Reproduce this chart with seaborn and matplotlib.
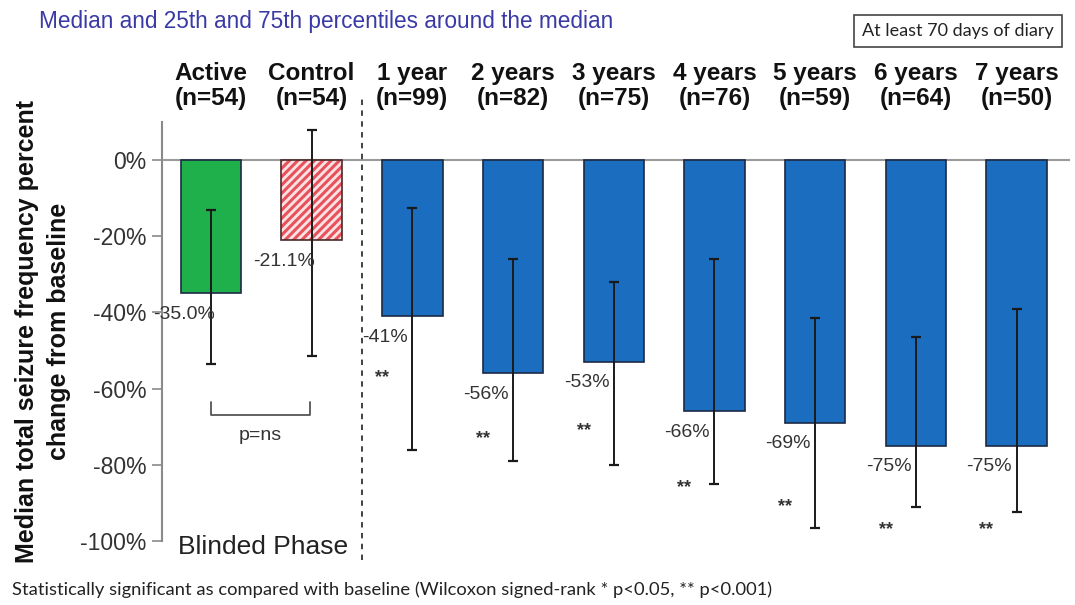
import seaborn as sns
import matplotlib
matplotlib.use("Agg")
import matplotlib.pyplot as plt
import matplotlib.transforms as mtrans
from matplotlib.patches import Rectangle
import pandas as pd

# data
groups = ["Active", "Control", "1 year", "2 years", "3 years", "4 years", "5 years", "6 years", "7 years"]
n_sizes = [54, 54, 99, 82, 75, 76, 59, 64, 50]
medians = [-35.0, -21.1, -41, -56, -53, -66, -69, -75, -75]
p75 = [-13, 8, -12.5, -26, -32, -26, -41.5, -46.5, -39]
p25 = [-53.5, -51.5, -76, -79, -80, -85, -96.5, -91, -92.5]
value_labels = ["-35.0%", "-21.1%", "-41%", "-56%", "-53%", "-66%", "-69%", "-75%", "-75%"]
stars = ["", "", "**", "**", "**", "**", "**", "**", "**"]
star_y = [None, None, -57, -73, -71, -86, -91, -97, -97]
yticks = [0, -20, -40, -60, -80, -100]

bar_colors = ["#1fb04b", "#fbe3e4"] + ["#1b6dc0"] * 7

sns.set_style("white")
plt.rcParams["font.family"] = ["Liberation Sans", "DejaVu Sans"]
plt.rcParams["hatch.linewidth"] = 2.2

df = pd.DataFrame({"group": groups, "median": medians})

fig = plt.figure(figsize=(10.75, 6.05), dpi=100)
ax = fig.add_axes([0.1507, 0.1058, 0.8446, 0.6925])

sns.barplot(data=df, x="group", y="median", hue="group", palette=bar_colors,
            saturation=1, legend=False, width=0.6, edgecolor="#1c2a44", linewidth=1.2, ax=ax)

# control bar: red diagonal hatch with dark outline
ctrl = ax.patches[1]
ctrl.set_edgecolor("#e8525c")
ctrl.set_hatch("////")
ctrl.set_linewidth(0)
ax.add_patch(Rectangle(ctrl.get_xy(), ctrl.get_width(), ctrl.get_height(),
                       fill=False, edgecolor="#4a2a2a", lw=1.2, zorder=3))

xs = list(range(len(groups)))
lo = [m - b for m, b in zip(medians, p25)]
hi = [t - m for m, t in zip(medians, p75)]
ax.errorbar(xs, medians, yerr=[lo, hi], fmt="none", ecolor="#1a1a1a",
            elinewidth=1.4, capsize=3.5, capthick=1.6, zorder=4)

ax.axhline(0, color="#9a9a9a", lw=1.5, zorder=0)

ax.set_ylim(-100, 10)
ax.set_xlim(-0.486, 8.53)
ax.set_yticks(yticks)
ax.set_yticklabels([f"{t}%" for t in yticks], fontsize=16.5, color="#333333")
ax.set_xticks([])
ax.set_xlabel("")
ax.tick_params(axis="y", direction="out", length=7, width=1.2, color="#8a8a8a", pad=4, left=True)
for s in ["top", "right", "bottom"]:
    ax.spines[s].set_visible(False)
ax.spines["left"].set_color("#8a8a8a")
ax.spines["left"].set_linewidth(1.5)

ax.set_ylabel("Median total seizure frequency percent\nchange from baseline",
              fontsize=18, fontweight="bold", linespacing=1.4, labelpad=7, color="#111111")

# value labels and significance stars
for i, (m, lab) in enumerate(zip(medians, value_labels)):
    ax.text(i - 0.27, m - 5.5, lab, ha="center", va="center", fontsize=14, color="#333333", zorder=5)
    if stars[i]:
        ax.text(i - 0.3, star_y[i], stars[i], ha="center", va="center", fontsize=13,
                fontweight="bold", color="#333333")

# group headers above the plot
trans = mtrans.blended_transform_factory(ax.transData, ax.transAxes)
for i, (g, n) in enumerate(zip(groups, n_sizes)):
    ax.text(i, 1.086, f"{g}\n(n={n})", transform=trans, ha="center", va="center",
            fontsize=17.5, fontweight="bold", linespacing=1.15, color="#111111")

# blinded / open phase divider
ax.plot([1.5, 1.5], [-0.045, 1.064], transform=trans, ls=(0, (3, 3)), color="#333333",
        lw=1.3, clip_on=False)
ax.text(0.52, -0.014, "Blinded Phase", transform=trans, ha="center", va="center",
        fontsize=19, color="#222222")

# p=ns bracket
ax.plot([0, 0, 0.98, 0.98], [-63.5, -67, -67, -63.5], color="#555555", lw=1.3)
ax.text(0.49, -72.2, "p=ns", ha="center", va="center", fontsize=14, color="#333333")

fig.text(0.036, 0.964, "Median and 25th and 75th percentiles around the median",
         ha="left", va="center", fontsize=16.3, color="#3a3aa6")
fig.text(0.8915, 0.949, "At least 70 days of diary", ha="center", va="center",
         fontsize=13, family="Lato", color="#222222",
         bbox=dict(boxstyle="square,pad=0.45", fc="white", ec="#444444", lw=1.2))
fig.text(0.011, 0.026, "Statistically significant as compared with baseline "
         "(Wilcoxon signed-rank * p<0.05, ** p<0.001)",
         ha="left", va="center", fontsize=13.2, family="Lato", color="#222222")

fig.savefig("out.png", dpi=100)
